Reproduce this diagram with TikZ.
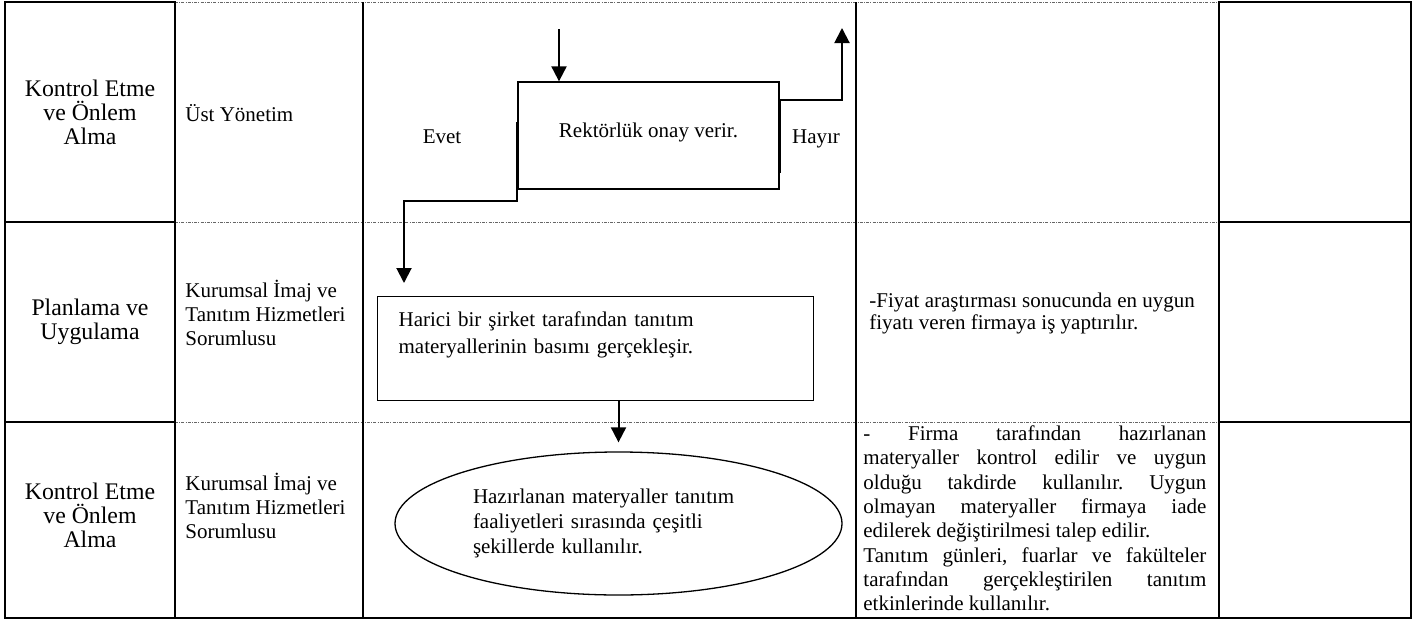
\documentclass[tikz,border=0pt]{standalone}
\usepackage{fontspec}
\setmainfont{Liberation Serif}
\usetikzlibrary{shapes,arrows.meta,calc}

\begin{document}
\begin{tikzpicture}[x=0.5pt,y=-0.5pt]

\def\xa{5}
\def\xb{175}
\def\xc{363}
\def\xd{856}
\def\xe{1219}
\def\xf{1411}
\def\ya{2}
\def\yb{222}
\def\yc{422}
\def\yd{618}

\tikzstyle{tablo}=[line width=1pt]
\tikzstyle{kesik}=[line width=0.5pt, black!60, dash pattern=on 1.5pt off 0.6pt on 0.5pt off 0.6pt]
\tikzstyle{etiket}=[font=\fontsize{11.9}{12}\selectfont, align=center, inner sep=0pt]
\tikzstyle{sorumlu}=[font=\fontsize{10.5}{12}\selectfont, align=left, anchor=west, inner sep=0pt]
\tikzstyle{metin}=[font=\fontsize{10.5}{12}\selectfont, inner sep=0pt]
\tikzstyle{islem}=[rectangle, draw, line width=0.65pt, font=\fontsize{10.5}{13.5}\selectfont]
\tikzstyle{bitis}=[ellipse, draw, line width=0.65pt, inner sep=0pt, font=\fontsize{10.5}{12.5}\selectfont]
\tikzstyle{akis}=[line width=1pt, -{Triangle[width=7.5pt,length=7.5pt]}]

\useasboundingbox (0,0) rectangle (1418,621);

%table
\draw[kesik] (\xb,\ya) -- (\xe,\ya) (\xb,\yb) -- (\xe,\yb) (\xb,\yc) -- (\xe,\yc);
\draw[tablo] (\xa,\ya) rectangle (\xb,\yd);
\draw[tablo] (\xe,\ya) rectangle (\xf,\yd);
\draw[tablo] (\xa,\yb) -- (\xb,\yb) (\xa,\yc) -- (\xb,\yc);
\draw[tablo] (\xe,\yb) -- (\xf,\yb) (\xe,\yc) -- (\xf,\yc);
\draw[tablo] (\xc,\ya) -- (\xc,\yd) (\xd,\ya) -- (\xd,\yd);
\draw[tablo] (\xb,\yd) -- (\xe,\yd);

%stages
\node[etiket] (asama1) at (90,112) {Kontrol Etme\\ve Önlem\\Alma};
\node[etiket] (asama2) at (90,322) {Planlama ve\\Uygulama};
\node[etiket] (asama3) at (90,515) {Kontrol Etme\\ve Önlem\\Alma};

%responsible
\node[sorumlu] (sor1) at (185,113) {Üst Yönetim};
\node[sorumlu] (sor2) at (185,313) {Kurumsal İmaj ve\\Tanıtım Hizmetleri\\Sorumlusu};
\node[sorumlu] (sor3) at (185,506) {Kurumsal İmaj ve\\Tanıtım Hizmetleri\\Sorumlusu};

%flow
\node[islem, minimum width=130.5pt, minimum height=53.5pt, text depth=5.7pt] (rektor) at (648.5,135.5) {Rektörlük onay verir.};
\node[islem, anchor=north west, text width=197pt, align=left, inner xsep=10.5pt, minimum height=52pt, text depth=29.2pt] (basim) at (377,296) {Harici bir şirket tarafından tanıtım\\materyallerinin basımı gerçekleşir.};
\node[bitis, minimum width=223.5pt, minimum height=71.5pt, text width=145.5pt, align=left, text depth=27.7pt] (hazir) at (618.5,523.5) {Hazırlanan materyaller tanıtım\\faaliyetleri sırasında çeşitli\\şekillerde kullanılır.};

\node[metin] (evet) at (442,137) {Evet};
\node[metin] (hayir) at (816,139) {Hayır};

\coordinate (girdi) at (559,29);
\coordinate (red) at (842,28);
\coordinate (evetbas) at ($(rektor.west)+(0,-13.5)$);
\coordinate (hayirbas) at ($(rektor.east)+(0,37.5)$);

%connections
\draw[akis] (girdi) -- (girdi |- rektor.north);
\draw[akis] (evetbas) -- ++(0,79) -| ($(basim.north west)+(27,-13)$);
\draw[akis] (hayirbas) -- ++(0,-73) -| (red);
\draw[akis] (hazir |- basim.south) -- ($(hazir.north)+(0,-9)$);

%notes
\node[metin, anchor=north west, align=left, font=\fontsize{10.5}{11}\selectfont] (fiyat) at (869,292.5) {-Fiyat araştırması sonucunda en uygun\\fiyatı veren firmaya iş yaptırılır.};
\node[metin, anchor=north west, text width=171.5pt, align=justify, font=\fontsize{10.5}{12.15}\selectfont] (kontrol) at (863,425.5) {\tolerance=10000 \frenchspacing - Firma tarafından hazırlanan\linebreak materyaller kontrol edilir ve uygun\linebreak olduğu takdirde kullanılır. Uygun\linebreak olmayan materyaller firmaya iade\linebreak edilerek değiştirilmesi talep edilir.\\Tanıtım günleri, fuarlar ve fakülteler\linebreak tarafından gerçekleştirilen tanıtım\linebreak etkinlerinde kullanılır.};

\end{tikzpicture}
\end{document}
